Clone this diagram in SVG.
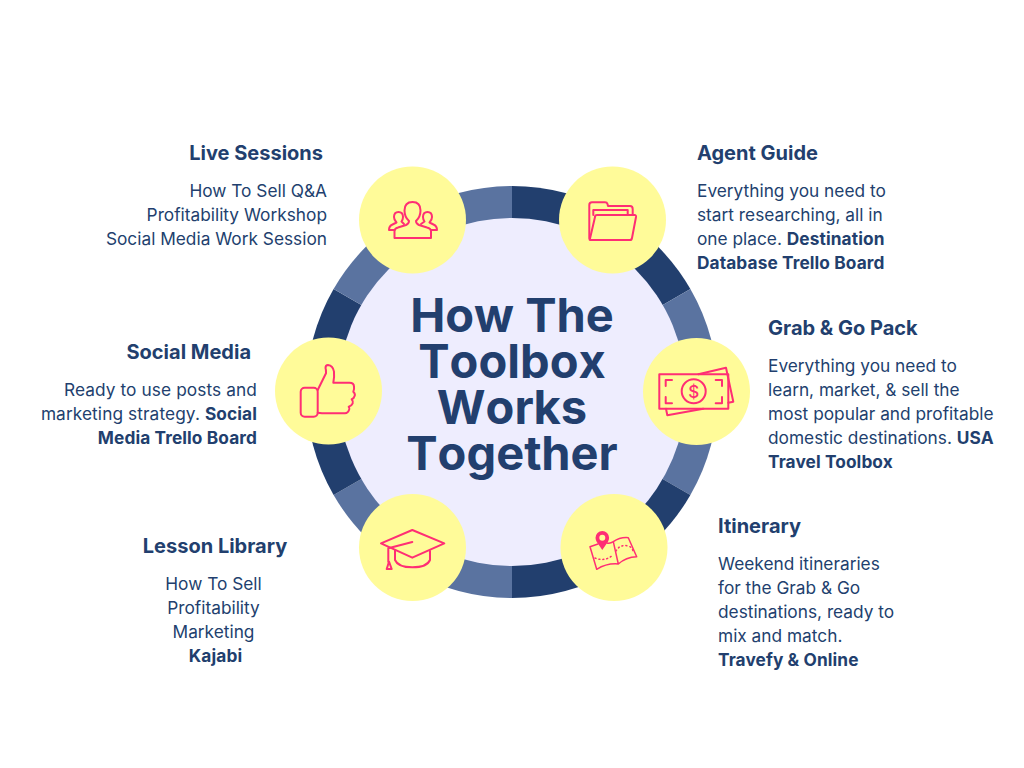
<svg xmlns="http://www.w3.org/2000/svg" width="1024" height="768" viewBox="0 0 1024 768">
<style>
text{font-family:"Inter","Liberation Sans",sans-serif;fill:#223f6e;font-optical-sizing:none}
.h{font-size:20px;font-weight:700}
.b{font-size:17.3px;font-weight:400}
.s{font-weight:700;letter-spacing:.1px}
.t{font-size:47px;font-weight:700;text-anchor:middle;font-kerning:none}
.e{text-anchor:end}
.m{text-anchor:middle}
.c{fill:#fffb99}
.i{fill:none;stroke:#ff2e74;stroke-width:2;stroke-linejoin:round;stroke-linecap:round}
.n{stroke-width:1.5}
.d{fill:#223f6e}.l{fill:#5a73a0}
</style>
<rect width="1024" height="768" fill="#ffffff"/>
<g id="ring">
<path class="d" d="M512 186A206 206 0 0 1 690.4 289L512 392Z"/>
<path class="l" d="M690.4 289A206 206 0 0 1 690.4 495L512 392Z"/>
<path class="d" d="M690.4 495A206 206 0 0 1 512 598L512 392Z"/>
<path class="l" d="M512 598A206 206 0 0 1 333.6 495L512 392Z"/>
<path class="d" d="M333.6 495A206 206 0 0 1 333.6 289L512 392Z"/>
<path class="l" d="M333.6 289A206 206 0 0 1 512 186L512 392Z"/>
<circle cx="512" cy="392" r="174" fill="#eeedfe"/>
</g>
<g id="title">
<text class="t" x="512" y="332"><tspan x="512" y="332">How The</tspan><tspan x="512" y="378">Toolbox</tspan><tspan x="512" y="424">Works</tspan><tspan x="512" y="470">Together</tspan></text>
</g>
<g id="live-sessions">
<circle class="c" cx="412.5" cy="220" r="53.5"/>
<path class="i" d="M394.5 238H431V231Q431 228.500 427 227.500L419 225Q416 223.500 416 221Q420.500 217 420.500 210.500Q420.500 202 412.500 202Q404.500 202 404.500 210.500Q404.500 217 409 221Q409 223.500 406 225L398 227.500Q394.500 228.500 394.500 231Z"/>
<path class="i" d="M394.500 230H389Q389 226 392.500 224.500L396.500 222.500Q394 220 394 217Q394 212 398.500 212Q403 212 403 217Q403 219.500 401.500 221.500L404 224"/>
<path class="i" d="M431 230H437Q437 226 433.500 224.500L429.500 222.500Q432 220 432 217Q432 212 427.500 212Q423 212 423 217Q423 219.500 424.500 221.500L421 224"/>
<text class="h e" x="323" y="160">Live Sessions</text>
<text class="b e" x="327" y="197">How To Sell Q&amp;A</text>
<text class="b e" x="327" y="221">Profitability Workshop</text>
<text class="b e" x="327" y="245">Social Media Work Session</text>
</g>
<g id="agent-guide">
<circle class="c" cx="612.5" cy="220" r="53.5"/>
<path class="i" d="M590.700 240Q589.300 240 589.300 238.500V205Q589.300 202.300 592 202.300H605Q607 202.300 607.500 204L608 206H630Q632.700 206 632.700 209V215"/>
<path class="i" d="M593.300 215V210H627.700V215"/>
<path class="i" d="M595 217Q595 215 597 215H634.500Q636.300 215 636 217L632 238Q631.700 240 630 240H590.700Q589.800 240 590 238.500Z"/>
<text class="h" x="697" y="160">Agent Guide</text>
<text class="b" x="697" y="197">Everything you need to</text>
<text class="b" x="697" y="221">start researching, all in</text>
<text class="b" x="697" y="245">one place. <tspan class="s">Destination</tspan></text>
<text class="b s" x="697" y="269">Database Trello Board</text>
</g>
<g id="social-media">
<circle class="c" cx="328.5" cy="391" r="53.5"/>
<rect class="i" x="300.700" y="387.700" width="17" height="29" rx="4"/>
<path class="i" d="M317.700 390L326 373.300Q326 369 325.500 368Q325.500 365 328 365Q333 365.500 334 371.700Q334.500 377 333.300 382.700H349.500Q354 382.700 354 386.700Q354.500 389.500 353.300 391.700Q355.500 394 354.700 395.700Q354 398.500 351.700 399.300Q353.500 401.500 352.700 403.300Q351.500 406 348.700 406.700Q349.800 408.500 349.300 409.300Q348 413.300 345 413.300H322L317.700 412.700"/>
<text class="h e" x="251" y="359">Social Media</text>
<text class="b e" x="257" y="396" letter-spacing=".09">Ready to use posts and</text>
<text class="b e" x="257" y="420" letter-spacing=".09">marketing strategy. <tspan class="s">Social</tspan></text>
<text class="b s e" x="257" y="444">Media Trello Board</text>
</g>
<g id="grab-go-pack">
<circle class="c" cx="696.5" cy="391.5" r="53.5"/>
<rect class="i" x="659.300" y="374.300" width="69" height="34.400"/>
<path class="i" d="M698.300 374.300L726 367.700L733.300 401.700L728.300 402.700M666 408.700L667.300 415.300L703.300 408.700"/>
<circle class="i" cx="693.700" cy="391.300" r="12"/>
<path class="i" d="M672 380H665.700V386M715.700 380H722V386M665.700 397V403.300H672M722 397V403.300H715.700"/>
<text x="693.700" y="397.500" font-size="17" font-weight="500" text-anchor="middle" style="fill:#ff2e74">$</text>
<text class="h" x="768" y="335">Grab &amp; Go Pack</text>
<text class="b" x="768" y="372">Everything you need to</text>
<text class="b" x="768" y="396">learn, market, &amp; sell the</text>
<text class="b" x="768" y="420">most popular and profitable</text>
<text class="b" x="768" y="444">domestic destinations. <tspan class="s">USA</tspan></text>
<text class="b s" x="768" y="468">Travel Toolbox</text>
</g>
<g id="lesson-library">
<circle class="c" cx="412.5" cy="547.5" r="53.5"/>
<path class="i" d="M412.300 530L444.300 543.300L412.300 557.700L381 543.300Z"/>
<path class="i" d="M412.300 542L388.300 548.300V561.700"/>
<path class="i" d="M389 561.700L386.700 569H391.700Z"/>
<path class="i" d="M395 550V560Q398 567.300 412.300 567.300Q427 567.300 430 560V551"/>
<text class="h m" x="215" y="553">Lesson Library</text>
<text class="b m" x="213.500" y="590">How To Sell</text>
<text class="b m" x="213.500" y="614">Profitability</text>
<text class="b m" x="213.500" y="638">Marketing</text>
<text class="b s m" x="215.500" y="662">Kajabi</text>
</g>
<g id="itinerary">
<circle class="c" cx="614" cy="547.5" r="53.5"/>
<path class="i n" d="M598 544L590 546.700L596.700 569.300Q607 563 618.300 564Q626 557 636.700 556.700L628.300 537.700Q620 537 613.300 541.700L618.300 564M613.300 541.700Q610 544 607 543"/>
<path class="i n" stroke-dasharray="1 3" d="M595 558Q605 562 613 555M616 551Q620 544 628 546Q632 547 633 551"/>
<path fill="#ff2e74" fill-rule="evenodd" d="M602.300 550L596.500 541.500Q595.500 539.500 595.500 537.700A6.800 6.800 0 0 1 609.100 537.700Q609.100 539.500 608.100 541.500ZM602.300 534.700A3 3 0 1 0 602.300 540.700A3 3 0 1 0 602.300 534.700Z"/>
<text class="h" x="718" y="533">Itinerary</text>
<text class="b" x="718" y="570">Weekend itineraries</text>
<text class="b" x="718" y="594">for the Grab &amp; Go</text>
<text class="b" x="718" y="618">destinations, ready to</text>
<text class="b" x="718" y="642">mix and match.</text>
<text class="b s" x="718" y="666">Travefy &amp; Online</text>
</g>
</svg>
